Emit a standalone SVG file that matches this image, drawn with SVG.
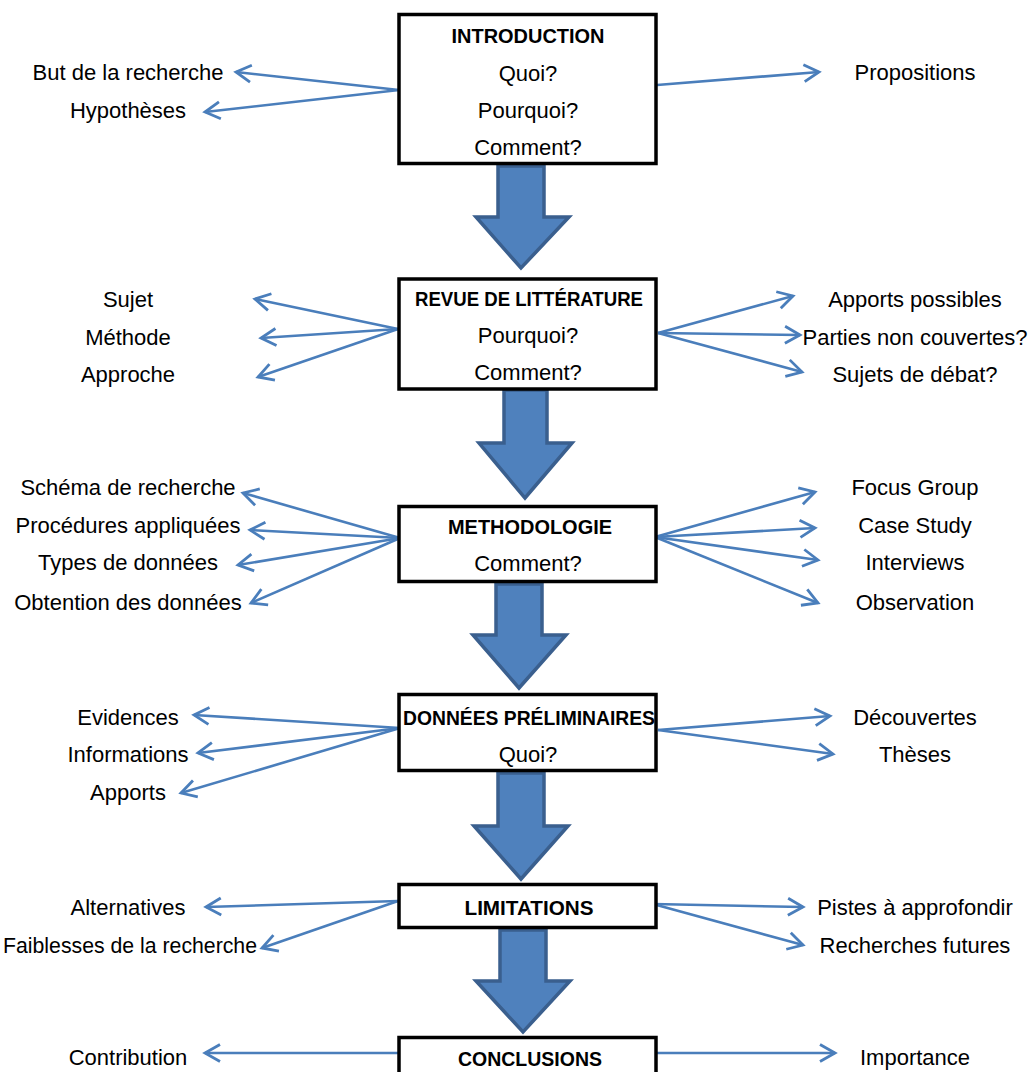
<svg xmlns="http://www.w3.org/2000/svg" width="1030" height="1072" viewBox="0 0 1030 1072">
<style>
text{font-family:"Liberation Sans",Arial,sans-serif;font-size:22px;fill:#000;text-anchor:middle}
.t{font-weight:bold;font-size:21px}
.box{fill:#fff;stroke:#000;stroke-width:3.5}
.big{fill:#4F81BD;stroke:#3A5F8E;stroke-width:3.5;stroke-linejoin:miter}
.c{fill:none;stroke:#4A7EBB;stroke-width:2.6;marker-end:url(#ah)}
</style>
<defs>
<marker id="ah" markerUnits="userSpaceOnUse" markerWidth="24" markerHeight="24" viewBox="-18 -12 22 24" refX="0" refY="0" orient="auto">
<path d="M-15,-8.5 L0,0 L-15,8.5" fill="none" stroke="#4A7EBB" stroke-width="2.8" stroke-linejoin="miter"/>
</marker>
</defs>

<g id="block-arrows">
<polygon class="big" points="498,166 544,166 544,217 569,217 521,268 476,217 498,217"/>
<polygon class="big" points="504,390 547,390 547,443 572,443 525,498 479,443 504,443"/>
<polygon class="big" points="496,584 542,584 542,635 566,635 519,688 473,635 496,635"/>
<polygon class="big" points="498,773 544,773 544,826 568,826 521,879 474,826 498,826"/>
<polygon class="big" points="500,930 546,930 546,981 570,981 523,1032 476,981 500,981"/>
</g>

<g id="connectors">
<line class="c" x1="399" y1="90" x2="236" y2="72"/>
<line class="c" x1="399" y1="90" x2="205" y2="112"/>
<line class="c" x1="657" y1="85" x2="819" y2="72"/>

<line class="c" x1="398" y1="329" x2="255" y2="299"/>
<line class="c" x1="398" y1="329" x2="261" y2="338"/>
<line class="c" x1="398" y1="329" x2="258" y2="377"/>
<line class="c" x1="658" y1="333" x2="793" y2="296"/>
<line class="c" x1="658" y1="333" x2="800" y2="335"/>
<line class="c" x1="658" y1="333" x2="802" y2="372"/>

<line class="c" x1="400" y1="538" x2="243" y2="493"/>
<line class="c" x1="400" y1="538" x2="250" y2="530"/>
<line class="c" x1="400" y1="538" x2="238" y2="565"/>
<line class="c" x1="400" y1="538" x2="251" y2="603"/>
<line class="c" x1="655" y1="537" x2="815" y2="492"/>
<line class="c" x1="655" y1="537" x2="815" y2="528"/>
<line class="c" x1="655" y1="537" x2="818" y2="560"/>
<line class="c" x1="655" y1="537" x2="818" y2="603"/>

<line class="c" x1="400" y1="728" x2="194" y2="715"/>
<line class="c" x1="400" y1="728" x2="198" y2="753"/>
<line class="c" x1="400" y1="728" x2="181" y2="793"/>
<line class="c" x1="658" y1="730" x2="830" y2="716"/>
<line class="c" x1="658" y1="730" x2="833" y2="754"/>

<line class="c" x1="398" y1="901" x2="206" y2="907"/>
<line class="c" x1="398" y1="901" x2="262" y2="948"/>
<line class="c" x1="653" y1="904" x2="803" y2="907"/>
<line class="c" x1="653" y1="904" x2="803" y2="945"/>

<line class="c" x1="398" y1="1053" x2="205" y2="1053"/>
<line class="c" x1="657" y1="1053" x2="835" y2="1053"/>
</g>

<g id="introduction">
<rect class="box" x="399" y="14.5" width="257" height="149"/>
<text class="t" x="528" y="43" textLength="153" lengthAdjust="spacingAndGlyphs">INTRODUCTION</text>
<text x="528" y="81">Quoi?</text>
<text x="528" y="118">Pourquoi?</text>
<text x="528" y="155">Comment?</text>
</g>
<g id="intro-left">
<text x="128" y="80">But de la recherche</text>
<text x="128" y="118">Hypothèses</text>
</g>
<g id="intro-right">
<text x="915" y="80">Propositions</text>
</g>

<g id="revue">
<rect class="box" x="399" y="279" width="257" height="110"/>
<text class="t" x="529" y="306" textLength="228" lengthAdjust="spacingAndGlyphs">REVUE DE LITTÉRATURE</text>
<text x="528" y="343">Pourquoi?</text>
<text x="528" y="380">Comment?</text>
</g>
<g id="revue-left">
<text x="128" y="307">Sujet</text>
<text x="128" y="345">Méthode</text>
<text x="128" y="382">Approche</text>
</g>
<g id="revue-right">
<text x="915" y="307">Apports possibles</text>
<text x="915" y="345">Parties non couvertes?</text>
<text x="915" y="382">Sujets de débat?</text>
</g>

<g id="methodologie">
<rect class="box" x="399" y="506.5" width="257" height="75"/>
<text class="t" x="530" y="534" textLength="164" lengthAdjust="spacingAndGlyphs">METHODOLOGIE</text>
<text x="528" y="571">Comment?</text>
</g>
<g id="methodo-left">
<text x="128" y="495">Schéma de recherche</text>
<text x="128" y="533">Procédures appliquées</text>
<text x="128" y="570">Types de données</text>
<text x="128" y="610">Obtention des données</text>
</g>
<g id="methodo-right">
<text x="915" y="495">Focus Group</text>
<text x="915" y="533">Case Study</text>
<text x="915" y="570">Interviews</text>
<text x="915" y="610">Observation</text>
</g>

<g id="donnees">
<rect class="box" x="399" y="694.5" width="257" height="76"/>
<text class="t" x="529" y="725" textLength="252" lengthAdjust="spacingAndGlyphs">DONNÉES PRÉLIMINAIRES</text>
<text x="528" y="762">Quoi?</text>
</g>
<g id="donnees-left">
<text x="128" y="725">Evidences</text>
<text x="128" y="762">Informations</text>
<text x="128" y="800">Apports</text>
</g>
<g id="donnees-right">
<text x="915" y="725">Découvertes</text>
<text x="915" y="762">Thèses</text>
</g>

<g id="limitations">
<rect class="box" x="399" y="884.5" width="257" height="43"/>
<text class="t" x="529" y="915" textLength="129" lengthAdjust="spacingAndGlyphs">LIMITATIONS</text>
</g>
<g id="limitations-left">
<text x="128" y="915">Alternatives</text>
<text x="130" y="953" textLength="254" lengthAdjust="spacingAndGlyphs">Faiblesses de la recherche</text>
</g>
<g id="limitations-right">
<text x="915" y="915">Pistes à approfondir</text>
<text x="915" y="953">Recherches futures</text>
</g>

<g id="conclusions">
<rect class="box" x="399" y="1037.5" width="257" height="50"/>
<text class="t" x="530" y="1066" textLength="144" lengthAdjust="spacingAndGlyphs">CONCLUSIONS</text>
</g>
<g id="conclusions-left">
<text x="128" y="1065">Contribution</text>
</g>
<g id="conclusions-right">
<text x="915" y="1065">Importance</text>
</g>
</svg>
